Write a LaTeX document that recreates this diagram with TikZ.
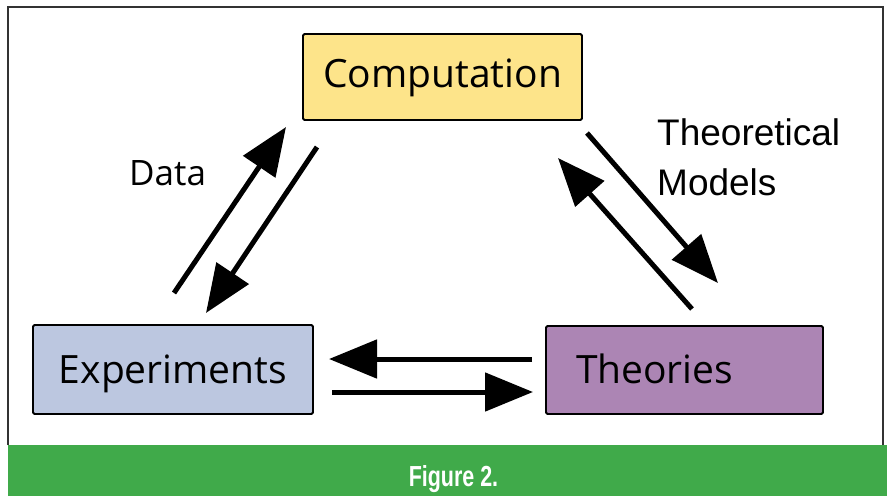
\documentclass[tikz,border=0pt]{standalone}
\usepackage{fontspec}
\usepackage{graphicx}
\setmainfont{Open Sans}
\newfontfamily\arialfont{Liberation Sans}
\usetikzlibrary{arrows.meta}
\definecolor{compfill}{RGB}{253,228,138}
\definecolor{expfill}{RGB}{188,199,224}
\definecolor{theofill}{RGB}{172,133,180}
\definecolor{bandgreen}{RGB}{64,170,74}
\definecolor{framegray}{RGB}{50,50,50}
\begin{document}
\begin{tikzpicture}[x=1pt,y=-1pt,
  box/.style={draw=black, line width=1.8pt, rounded corners=1.5pt, inner ysep=0pt,
    font=\fontsize{39}{44}\selectfont},
  flow/.style={line width=5pt, -{Triangle[length=48pt,width=38pt]}},
  lbl/.style={inner sep=0pt, anchor=base west},
]
\useasboundingbox (0,0) rectangle (887,496);
% frame and band
\draw[framegray, line width=1.3pt] (8,445) -- (8,7) -- (883,7) -- (883,445);
\fill[bandgreen] (8,445) rectangle (887,496);
\node[inner sep=0pt, anchor=base, text=white, font=\arialfont\bfseries\fontsize{29}{32}\selectfont]
  (fig) at (453.5,486) {\scalebox{0.74}[1]{Figure 2.}};
% boxes
\node[box, fill=compfill, minimum width=279pt, minimum height=86pt, text height=28pt, text depth=8pt]
  (comp) at (442.5,77) {Computation};
\node[box, fill=expfill, minimum width=280pt, minimum height=89pt, text height=29pt, text depth=2pt]
  (exp) at (173,369.5) {Experiments};
\node[box, fill=theofill, minimum height=88pt, text height=28pt, text depth=2pt,
  inner xsep=30pt, text width=217pt, align=left]
  (theo) at (684.5,370) {Theories};
% labels
\node[lbl, font=\fontsize{35}{40}\selectfont] (data) at (129,185) {Data};
\node[lbl, font=\arialfont\fontsize{37}{42}\selectfont] (tm1) at (657,145) {Theoretical};
\node[lbl, font=\arialfont\fontsize{37}{42}\selectfont] (tm2) at (657,195) {Models};
% arrow end points
\coordinate (a1s) at (174,293);  \coordinate (a1e) at (286,127);
\coordinate (a2s) at (317,147);  \coordinate (a2e) at (206,313);
\coordinate (b1s) at (692,309);  \coordinate (b1e) at (558,158);
\coordinate (b2s) at (587,133);  \coordinate (b2e) at (718,283);
\coordinate (c1s) at (532,359);  \coordinate (c1e) at (329,359);
\coordinate (c2s) at (332,392);  \coordinate (c2e) at (533,392);
\draw[flow] (a1s) -- (a1e);
\draw[flow] (a2s) -- (a2e);
\draw[flow] (b1s) -- (b1e);
\draw[flow] (b2s) -- (b2e);
\draw[flow] (c1s) -- (c1e);
\draw[flow] (c2s) -- (c2e);
\end{tikzpicture}
\end{document}
